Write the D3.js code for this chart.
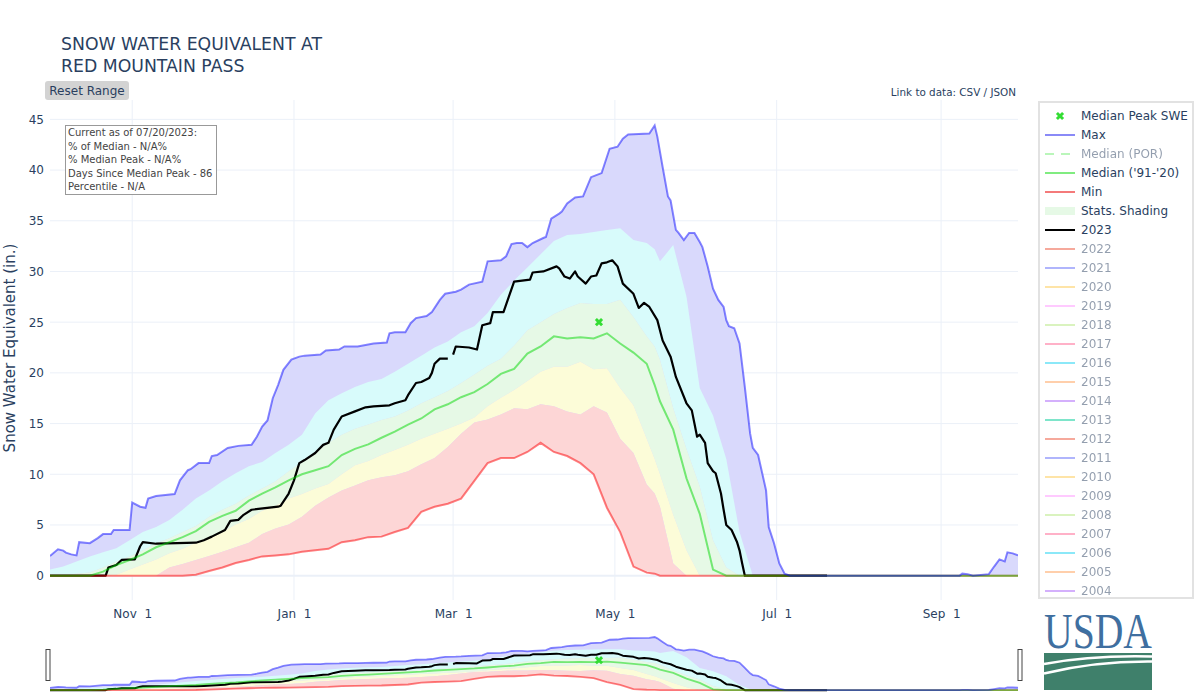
<!DOCTYPE html>
<html>
<head>
<meta charset="utf-8">
<script src="https://cdn.jsdelivr.net/npm/d3@7"></script>
<style>
  body { margin: 0; background: #fff; }
  svg { display: block; font-family: "DejaVu Sans", Verdana, sans-serif; }
</style>
</head>
<body>
<svg id="chart" width="1200" height="700"></svg>
<script>
// ---------------- DATA ----------------
const chartTitle = ["SNOW WATER EQUIVALENT AT", "RED MOUNTAIN PASS"];
const yAxisTitle = "Snow Water Equivalent (in.)";
const yTicks = [0, 5, 10, 15, 20, 25, 30, 35, 40, 45];
const xTickDates = ["11-01", "01-01", "03-01", "05-01", "07-01", "09-01"];

// dates shared by the percentile / median / min series (month-day, water year Oct -> Sep)
const statDates = ["10-01","10-06","10-11","10-16","10-21","10-26","10-31",
  "11-05","11-10","11-15","11-20","11-25","11-30",
  "12-05","12-10","12-15","12-20","12-25","12-30",
  "01-04","01-09","01-14","01-19","01-24","01-29",
  "02-03","02-08","02-13","02-18","02-23","02-28",
  "03-04","03-09","03-14","03-19","03-24","03-29",
  "04-03","04-08","04-13","04-18","04-23","04-28",
  "05-03","05-08","05-13","05-16","05-18","05-23","05-28",
  "06-02","06-07","06-12","06-17","06-22","06-27",
  "07-02","07-07","08-01",
  "09-01","09-06","09-09","09-11","09-13","09-19","09-21","09-23","09-25","09-26","09-28","09-30"];

const p90SWE = [0.6,0.9,1.4,1.9,2.3,2.7,3.5,
  4.3,4.8,5.5,6.5,7.6,8.4,
  9.3,10.1,10.8,11.2,12.1,12.9,
  13.9,16.0,17.3,18.0,18.6,19.1,
  19.4,20.1,20.9,21.7,22.5,23.1,
  24.0,24.6,25.9,27.7,29.1,30.4,
  31.7,33.0,33.6,33.7,33.9,34.1,
  34.25,33.1,32.8,32.2,31.0,32.6,27.5,
  18.5,15.8,11.5,4.3,0,0,
  0,0,0,
  0,0,0,0,0,0,0,0,0,0,0,0];

const p70SWE = [0.1,0.1,0.2,0.3,0.8,1.4,1.9,
  2.5,3.2,3.7,4.3,4.9,5.8,
  6.5,7.1,7.9,8.6,9.3,10.3,
  11.2,12.2,13.1,13.9,14.5,14.9,
  15.35,15.7,16.3,17.0,17.6,18.2,
  19.0,19.85,20.7,21.4,22.7,24.2,
  25.0,25.8,26.4,26.9,26.8,26.8,
  27.2,25.5,23.6,22.6,21.3,16.5,12.5,
  8.8,3.5,0.8,0,0,0,
  0,0,0,
  0,0,0,0,0,0,0,0,0,0,0,0];

const medianSWE = [0,0,0,0,0.4,1.05,1.55,
  2.1,2.8,3.3,3.8,4.4,5.3,
  5.9,6.4,7.4,8.1,8.7,9.4,
  10.0,10.4,10.8,11.9,12.5,12.95,
  13.6,14.2,14.9,15.5,16.4,16.9,
  17.6,18.1,18.9,19.9,20.4,21.9,
  22.6,23.6,23.4,23.5,23.4,23.9,
  22.9,22.0,20.9,18.8,17.2,14.4,9.6,
  6.1,0.6,0,0,0,0,
  0,0,0,
  0,0,0,0,0,0,0,0,0,0,0,0];

const p30SWE = [0,0,0,0,0,0.1,0.6,
  1.1,1.6,2.2,2.65,3.25,3.75,
  4.3,5.05,5.6,6.4,6.9,7.6,
  8.05,8.6,9.05,10.0,10.9,11.3,
  11.9,12.4,12.9,13.5,14.0,14.5,
  15.0,15.6,16.7,17.55,18.3,19.2,
  20.1,20.6,20.6,21.1,20.35,20.45,
  18.5,16.8,13.5,11.5,10.0,6.0,2.5,
  0,0,0,0,0,0,
  0,0,0,
  0,0,0,0,0,0,0,0,0,0,0,0];

const p10SWE = [0,0,0,0,0,0,0,
  0,0,0.8,1.15,1.55,1.95,
  2.35,2.8,3.25,4.1,4.65,5.05,
  5.8,6.9,7.7,8.4,8.9,9.4,
  9.7,9.9,10.3,11.0,11.6,12.7,
  14.0,15.1,15.4,15.9,16.5,16.4,
  16.9,16.7,16.2,15.9,16.7,16.1,
  13.5,12.1,9.0,8.1,6.8,1.2,0,
  0,0,0,0,0,0,
  0,0,0,
  0,0,0,0,0,0,0,0,0,0,0,0];

const minSWE = [0,0,0,0,0,0,0,
  0,0,0,0,0.1,0.46,
  0.8,1.25,1.55,1.9,2.0,2.1,
  2.35,2.5,2.65,3.3,3.5,3.8,
  3.85,4.3,4.7,6.3,6.8,7.1,
  7.6,9.35,11.1,11.6,11.6,12.2,
  13.1,12.2,11.8,11.1,10.0,6.7,
  4.3,0.9,0.3,0.2,0,0,0,
  0,0,0,0,0,0,
  0,0,0,
  0,0,0,0,0,0,0,0,0,0,0,0];

// period-of-record maximum, read at its own corner points
const maxDates = ["10-01","10-04","10-06","10-07","10-09","10-11","10-12","10-16","10-19","10-21",
  "10-24","10-25","10-31","11-01","11-04","11-06","11-07","11-10","11-17","11-19",
  "11-22","11-23","11-26","11-30","12-01","12-03","12-07","12-11","12-16","12-18",
  "12-20","12-22","12-24","12-26","12-28","12-31","01-03","01-05","01-11","01-13",
  "01-18","01-20","01-25","01-28","01-31","02-05","02-06","02-08","02-12","02-14",
  "02-16","02-20","02-22","02-25","02-27","03-02","03-04","03-07","03-12","03-14",
  "03-19","03-21","03-23","03-25","03-27","03-29","03-31","04-04","04-05","04-07",
  "04-10","04-11","04-13","04-16","04-19","04-22","04-24","04-26","04-29","05-02",
  "05-04","05-06","05-14","05-16","05-17","05-19","05-21","05-22","05-24","05-25",
  "05-27","05-29","05-31","06-02","06-03","06-05","06-07","06-09","06-11","06-12",
  "06-13","06-15","06-17","06-19","06-21","06-22","06-24","06-25","06-27","06-28",
  "06-30","07-02","07-04","07-06","09-08","09-09","09-11","09-13","09-19","09-21",
  "09-23","09-25","09-26","09-28","09-30"];
const maxSWE = [1.94,2.6,2.47,2.27,2.1,2.0,3.3,3.2,3.7,4.1,
  4.1,4.5,4.5,7.2,6.8,6.7,7.6,7.85,8.05,9.4,
  10.4,10.5,11.1,11.1,11.8,11.9,12.6,12.8,12.9,13.7,
  14.7,15.3,17.5,18.8,20.3,21.3,21.6,21.7,21.8,22.2,
  22.3,22.6,22.6,22.75,22.9,23.0,23.9,24.0,24.0,24.9,
  25.4,25.6,26.0,27.2,27.8,28.0,28.2,28.7,29.0,31.0,
  31.1,31.5,32.7,32.8,32.8,32.4,32.8,33.3,33.4,35.2,
  35.7,35.9,36.7,37.3,37.4,39.3,39.5,39.7,42.1,42.3,
  43.1,43.5,43.6,44.4,43.3,40.3,37.4,37.0,34.1,33.8,
  33.1,33.8,33.8,32.9,32.4,30.5,28.3,27.2,26.5,25.2,
  24.6,24.4,22.9,18.6,14.0,12.6,11.9,10.75,8.4,4.8,
  3.2,1.2,0.2,0,0,0.2,0.15,0,0.15,0.9,
  1.6,1.4,2.3,2.2,2.0];

// water year 2023 (null = no Feb 29 in 2023)
const dates2023 = ["10-01","10-22","10-23","10-26","10-28","11-02","11-04","11-05","11-10","11-18",
  "11-25","11-28","12-01","12-06","12-08","12-11","12-13","12-16","12-26","12-27",
  "12-30","01-01","01-03","01-05","01-09","01-12","01-14","01-16","01-19","01-24",
  "01-28","01-31","02-06","02-08","02-12","02-13","02-16","02-18","02-21","02-22",
  "02-23","02-25","02-28","02-29","03-01","03-02","03-07","03-10","03-12","03-15",
  "03-16","03-20","03-24","03-30","03-31","04-04","04-09","04-10","04-12","04-14",
  "04-16","04-17","04-20","04-22","04-24","04-26","04-28","04-30","05-02","05-04",
  "05-08","05-10","05-12","05-14","05-17","05-19","05-22","05-24","05-28","05-30",
  "05-31","06-01","06-02","06-04","06-05","06-07","06-08","06-10","06-11","06-12",
  "06-14","06-16","06-17","06-18","06-19","07-20"];
const swe2023 = [0,0,0.8,1.05,1.55,1.6,2.9,3.3,3.15,3.2,
  3.25,3.5,3.85,4.5,5.4,5.5,6.0,6.5,6.8,6.9,
  8.1,9.4,11.1,11.4,12.1,12.9,13.1,14.4,15.7,16.2,
  16.6,16.7,16.8,17.0,17.3,17.8,19.0,19.1,19.5,20.0,
  20.9,21.4,21.4,null,21.8,22.6,22.5,22.3,24.7,24.9,
  26.0,26.0,29.0,29.2,29.9,30.0,30.5,30.3,29.5,29.3,
  30.0,29.5,28.8,29.5,29.6,30.8,30.9,31.1,30.5,28.8,
  27.8,26.4,26.9,26.5,25.2,23.2,21.6,19.6,17.0,16.3,
  15.0,13.7,13.9,13.1,11.1,10.3,10.1,8.1,6.5,5.0,
  4.5,3.35,2.5,1.2,0,0];

const medianPeakDate = ["04-25"];
const medianPeakValue = [25.0];

const infoLines = ["Current as of 07/20/2023:", "% of Median - N/A%", "% Median Peak - N/A%",
  "Days Since Median Peak - 86", "Percentile - N/A"];

const legendNames = ["Median Peak SWE", "Max", "Median (POR)", "Median ('91-'20)", "Min", "Stats. Shading", "2023"];
const legendYears = [2022,2021,2020,2019,2018,2017,2016,2015,2014,2013,2012,2011,2010,2009,2008,2007,2006,2005,2004];
const legendYearColors = ["#EF553B","#636efa","#FECB52","#FF97FF","#B6E880","#FF6692","#19d3f3","#FFA15A","#ab63fa",
  "#00cc96","#EF553B","#636efa","#FECB52","#FF97FF","#B6E880","#FF6692","#19d3f3","#FFA15A","#ab63fa"];

// ---------------- STYLE ----------------
const C = {
  text: "#2a3f5f",
  grid: "#ebf0f8",
  maxLine: "rgba(0,0,255,0.48)",
  medLine: "rgba(0,215,0,0.5)",
  minLine: "rgba(255,0,0,0.5)",
  yr2023: "#000",
  bandMax: "#d9d9fc",
  band90: "#d8fbfb",
  band70: "#e6f9e6",
  band30: "#fcfcd8",
  band10: "#fdd6d6",
  peak: "#33dd33"
};

// ---------------- HELPERS ----------------
const toDate = md => { const [m, d] = md.split("-").map(Number); return new Date(m >= 10 ? 2019 : 2020, m - 1, d); };
const statRows = statDates.map(toDate).map((d, i) => ({
  date: d, p90: p90SWE[i], p70: p70SWE[i], med: medianSWE[i],
  p30: p30SWE[i], p10: p10SWE[i], min: minSWE[i]
}));
const maxRows = maxDates.map((d, i) => ({ date: toDate(d), v: maxSWE[i] }));
const rows2023 = dates2023.map((d, i) => ({ date: toDate(d), v: swe2023[i] }));
const peakRows = medianPeakDate.map((d, i) => ({ date: toDate(d), v: medianPeakValue[i] }));

const svg = d3.select("#chart");
const L = 50, R = 1018, T = 100, B = 600;
const x = d3.scaleTime().domain([new Date(2019, 9, 1), new Date(2020, 8, 30)]).range([L, R]);
const yDomain = [-2.4, 46.91];
const y = d3.scaleLinear().domain(yDomain).range([B, T]);
const SL_T = 634, SL_B = 693;
const ys = d3.scaleLinear().domain(yDomain).range([SL_B, SL_T]);

const defs = svg.append("defs");
defs.append("clipPath").attr("id", "clipMain").append("rect").attr("x", L).attr("y", T).attr("width", R - L).attr("height", B - T);
defs.append("clipPath").attr("id", "clipSlider").append("rect").attr("x", L).attr("y", SL_T).attr("width", R - L).attr("height", SL_B - SL_T);

// ---------------- GRID ----------------
const grid = svg.append("g");
grid.selectAll("line.v").data(xTickDates.map(toDate)).enter().append("line")
  .attr("x1", d => x(d)).attr("x2", d => x(d)).attr("y1", T).attr("y2", B)
  .attr("stroke", C.grid).attr("stroke-width", 1);
grid.selectAll("line.h").data(yTicks).enter().append("line")
  .attr("x1", L).attr("x2", R).attr("y1", d => y(d)).attr("y2", d => y(d))
  .attr("stroke", C.grid).attr("stroke-width", d => d === 0 ? 2 : 1);

// ---------------- SERIES DRAWING ----------------
function drawSeries(g, yS, lw, id, top, bottom) {
  // mask: only the region above the min curve
  const mask = defs.append("mask").attr("id", id).attr("maskUnits", "userSpaceOnUse")
    .attr("x", 0).attr("y", 0).attr("width", 1200).attr("height", 700);
  mask.append("rect").attr("x", 0).attr("y", 0).attr("width", 1200).attr("height", 700).attr("fill", "#000");
  mask.append("path").datum(statRows)
    .attr("d", d3.area().x(d => x(d.date)).y0(top - 5).y1(d => yS(d.min)))
    .attr("fill", "#fff");
  // lavender: up to the max curve (covered below p90 by the other bands)
  g.append("path").datum(maxRows)
    .attr("d", d3.area().x(d => x(d.date)).y0(bottom + 5).y1(d => yS(d.v)))
    .attr("fill", C.bandMax).attr("mask", `url(#${id})`);

  const band = (lo, hi, col) => g.append("path").datum(statRows)
    .attr("d", d3.area().x(d => x(d.date)).y0(d => yS(d[lo])).y1(d => yS(d[hi])))
    .attr("fill", col).attr("stroke", "none");
  band("p70", "p90", C.band90);
  band("p30", "p70", C.band70);
  band("p10", "p30", C.band30);
  band("min", "p10", C.band10);

  g.append("path").datum(rows2023)
    .attr("d", d3.line().defined(d => d.v != null).x(d => x(d.date)).y(d => yS(d.v)))
    .attr("fill", "none").attr("stroke", C.yr2023).attr("stroke-width", lw + 0.2).attr("stroke-linejoin", "round");
  const line = key => d3.line().x(d => x(d.date)).y(d => yS(d[key]));
  g.append("path").datum(statRows).attr("d", line("min"))
    .attr("fill", "none").attr("stroke", C.minLine).attr("stroke-width", lw);
  g.append("path").datum(statRows).attr("d", line("med"))
    .attr("fill", "none").attr("stroke", C.medLine).attr("stroke-width", lw);
  g.append("path").datum(maxRows).attr("d", d3.line().x(d => x(d.date)).y(d => yS(d.v)))
    .attr("fill", "none").attr("stroke", C.maxLine).attr("stroke-width", lw);

  g.selectAll("path.peak").data(peakRows).enter().append("path")
    .attr("d", d3.symbol(d3.symbolCross, 42)())
    .attr("transform", d => `translate(${x(d.date)},${yS(d.v)}) rotate(45)`)
    .attr("fill", C.peak);
}
drawSeries(svg.append("g").attr("clip-path", "url(#clipMain)"), y, 2, "maskMain", T, B);
drawSeries(svg.append("g").attr("clip-path", "url(#clipSlider)"), ys, 1.8, "maskSlider", SL_T, SL_B);

// range slider handles
[L - 2, R + 2].forEach(hx => {
  svg.append("rect").attr("x", hx - 2).attr("y", 649.5).attr("width", 4).attr("height", 31)
    .attr("fill", "#fff").attr("stroke", "#444").attr("stroke-width", 1);
});

// ---------------- AXES ----------------
const yAxis = svg.append("g").attr("transform", `translate(${L},0)`)
  .call(d3.axisLeft(y).tickValues(yTicks).tickSize(0).tickPadding(6));
yAxis.select(".domain").remove();
yAxis.selectAll("text").attr("fill", C.text).style("font-size", "12px").style("font-family", "DejaVu Sans, Verdana, sans-serif");

const xAxis = svg.append("g").attr("transform", `translate(0,${B})`)
  .call(d3.axisBottom(x).tickValues(xTickDates.map(toDate)).tickFormat(d3.timeFormat("%b %e")).tickSize(0).tickPadding(9.5));
xAxis.select(".domain").remove();
xAxis.selectAll("text").attr("fill", C.text).style("font-size", "12px").style("white-space", "pre")
  .style("font-family", "DejaVu Sans, Verdana, sans-serif");

svg.append("text").attr("transform", `translate(15,348) rotate(-90)`).attr("text-anchor", "middle")
  .attr("fill", C.text).style("font-size", "15px").text(yAxisTitle);

// ---------------- TITLE & TEXTS ----------------
svg.selectAll("text.title").data(chartTitle).enter().append("text")
  .attr("x", 61).attr("y", (d, i) => 50 + i * 22).attr("fill", C.text)
  .style("font-size", "17.3px").text(d => d);

svg.append("rect").attr("x", 45).attr("y", 81).attr("width", 84).attr("height", 19).attr("rx", 3)
  .attr("fill", "#d3d3d3");
svg.append("text").attr("x", 87).attr("y", 94.5).attr("text-anchor", "middle").attr("fill", C.text)
  .style("font-size", "12px").text("Reset Range");

svg.append("text").attr("x", 1016).attr("y", 96).attr("text-anchor", "end").attr("fill", C.text)
  .style("font-size", "10.4px").text("Link to data: CSV / JSON");

// info box
svg.append("rect").attr("x", 65.5).attr("y", 125.5).attr("width", 151).attr("height", 69)
  .attr("fill", "#fff").attr("stroke", "#999").attr("stroke-width", 1);
svg.selectAll("text.info").data(infoLines).enter().append("text")
  .attr("x", 68).attr("y", (d, i) => 136 + i * 13.5).attr("fill", "#444")
  .style("font-size", "10px").text(d => d);

// ---------------- LEGEND ----------------
svg.append("rect").attr("x", 1039).attr("y", 102).attr("width", 154).attr("height", 496)
  .attr("fill", "#fff").attr("stroke", "#e2e2e2").attr("stroke-width", 2);
const legendItems = [
  { name: legendNames[0], kind: "peak", color: C.peak, faded: false },
  { name: legendNames[1], kind: "line", color: "#8a8af7", faded: false },
  { name: legendNames[2], kind: "dash", color: "#77ee77", faded: true },
  { name: legendNames[3], kind: "line", color: "#80ec80", faded: false },
  { name: legendNames[4], kind: "line", color: "#f47a7a", faded: false },
  { name: legendNames[5], kind: "fill", color: "#e6f9e6", faded: false },
  { name: legendNames[6], kind: "line", color: "#000", faded: false }
].concat(legendYears.map((yr, i) => ({ name: String(yr), kind: "line", color: legendYearColors[i], faded: true })));

const lg = svg.append("g").selectAll("g").data(legendItems).enter().append("g")
  .attr("transform", (d, i) => `translate(0,${116 + i * 19})`)
  .attr("opacity", d => d.faded ? 0.5 : 1);
lg.each(function (d) {
  const g = d3.select(this);
  if (d.kind === "peak") {
    g.append("path").attr("d", d3.symbol(d3.symbolCross, 42)()).attr("transform", "translate(1060,0) rotate(45)").attr("fill", d.color);
  } else if (d.kind === "fill") {
    g.append("rect").attr("x", 1045).attr("y", -4).attr("width", 30).attr("height", 8).attr("fill", d.color);
  } else {
    g.append("line").attr("x1", 1045).attr("x2", 1075).attr("y1", 0).attr("y2", 0)
      .attr("stroke", d.color).attr("stroke-width", 2).attr("stroke-dasharray", d.kind === "dash" ? "9,7" : null);
  }
  g.append("text").attr("x", 1081).attr("y", 4.3).attr("fill", C.text).style("font-size", "12px").text(d.name);
});

// ---------------- USDA LOGO ----------------
const logo = svg.append("g");
logo.append("text").attr("x", 1044).attr("y", 648).attr("fill", "#3f6fa0")
  .style("font-family", "Liberation Serif, serif").style("font-size", "51px")
  .attr("textLength", 108).attr("lengthAdjust", "spacingAndGlyphs").text("USDA");
logo.append("rect").attr("x", 1044).attr("y", 653).attr("width", 108).attr("height", 37).attr("fill", "#3f806b");
logo.append("path").attr("d", "M1044,664 Q1092,655 1152,656.5").attr("fill", "none").attr("stroke", "#fff").attr("stroke-width", 2.6);
logo.append("path").attr("d", "M1044,673.5 Q1095,661 1152,661.5").attr("fill", "none").attr("stroke", "#fff").attr("stroke-width", 2.6);
</script>
</body>
</html>
